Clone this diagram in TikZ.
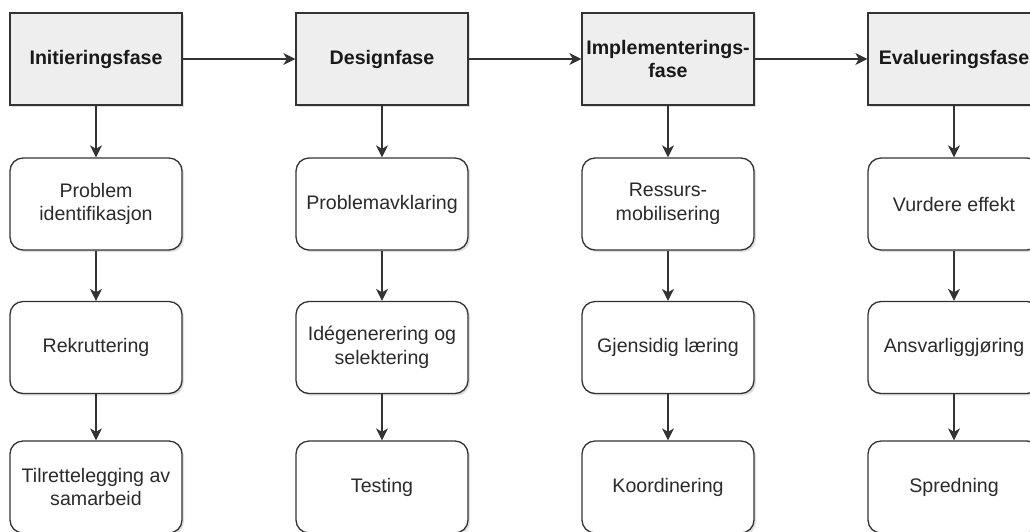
\documentclass[tikz,border=0pt]{standalone}
\usepackage{fontspec}
\setmainfont{Liberation Sans}
\usetikzlibrary{arrows.meta,shadows}
\definecolor{edge}{HTML}{333333}
\definecolor{hdrfill}{HTML}{EEEEEE}
\definecolor{txt}{HTML}{2B2B2B}
\tikzset{
  phase/.style={draw=edge, line width=1.3pt, fill=hdrfill, minimum width=172pt, minimum height=92pt,
    inner sep=0pt, align=center, font=\fontsize{19.6}{23.5}\selectfont\bfseries, text=black!90,
    drop shadow={opacity=0.25, shadow xshift=2pt, shadow yshift=-2pt}},
  task/.style={draw=edge, line width=1.3pt, fill=white, rounded corners=13pt, minimum width=172pt, minimum height=92pt,
    inner sep=0pt, align=center, font=\fontsize{19.6}{23.5}\selectfont, text=txt,
    drop shadow={opacity=0.25, shadow xshift=2pt, shadow yshift=-2pt}},
  link/.style={draw=edge, line width=1.3pt, -{Stealth[length=12pt,width=12pt,inset=3.5pt]}}
}
\begin{document}
\begin{tikzpicture}[x=1pt,y=-1pt]
\clip (0,0) rectangle (1030,531);
\fill[white] (0,0) rectangle (1030,531);
% headers
\node[phase] (h1) at (96,59) {Initieringsfase};
\node[phase] (h2) at (382,59) {Designfase};
\node[phase] (h3) at (668,59) {Implementerings-\\fase};
\node[phase] (h4) at (954,59) {Evalueringsfase};
% column 1
\node[task] (a1) at (96,204) {Problem\\identifikasjon};
\node[task] (a2) at (96,347.5) {Rekruttering};
\node[task] (a3) at (96,487) {Tilrettelegging av\\samarbeid};
% column 2
\node[task] (b1) at (382,204) {Problemavklaring};
\node[task] (b2) at (382,347.5) {Idégenerering og\\selektering};
\node[task] (b3) at (382,487) {Testing};
% column 3
\node[task] (c1) at (668,204) {Ressurs-\\mobilisering};
\node[task] (c2) at (668,347.5) {Gjensidig læring};
\node[task] (c3) at (668,487) {Koordinering};
% column 4
\node[task] (d1) at (954,204) {Vurdere effekt};
\node[task] (d2) at (954,347.5) {Ansvarliggjøring};
\node[task] (d3) at (954,487) {Spredning};
% horizontal links
\draw[link] (h1) -- (h2);
\draw[link] (h2) -- (h3);
\draw[link] (h3) -- (h4);
% vertical links
\draw[link] (h1) -- (a1);
\draw[link] (a1) -- (a2);
\draw[link] (a2) -- (a3);
\draw[link] (h2) -- (b1);
\draw[link] (b1) -- (b2);
\draw[link] (b2) -- (b3);
\draw[link] (h3) -- (c1);
\draw[link] (c1) -- (c2);
\draw[link] (c2) -- (c3);
\draw[link] (h4) -- (d1);
\draw[link] (d1) -- (d2);
\draw[link] (d2) -- (d3);
\end{tikzpicture}
\end{document}
